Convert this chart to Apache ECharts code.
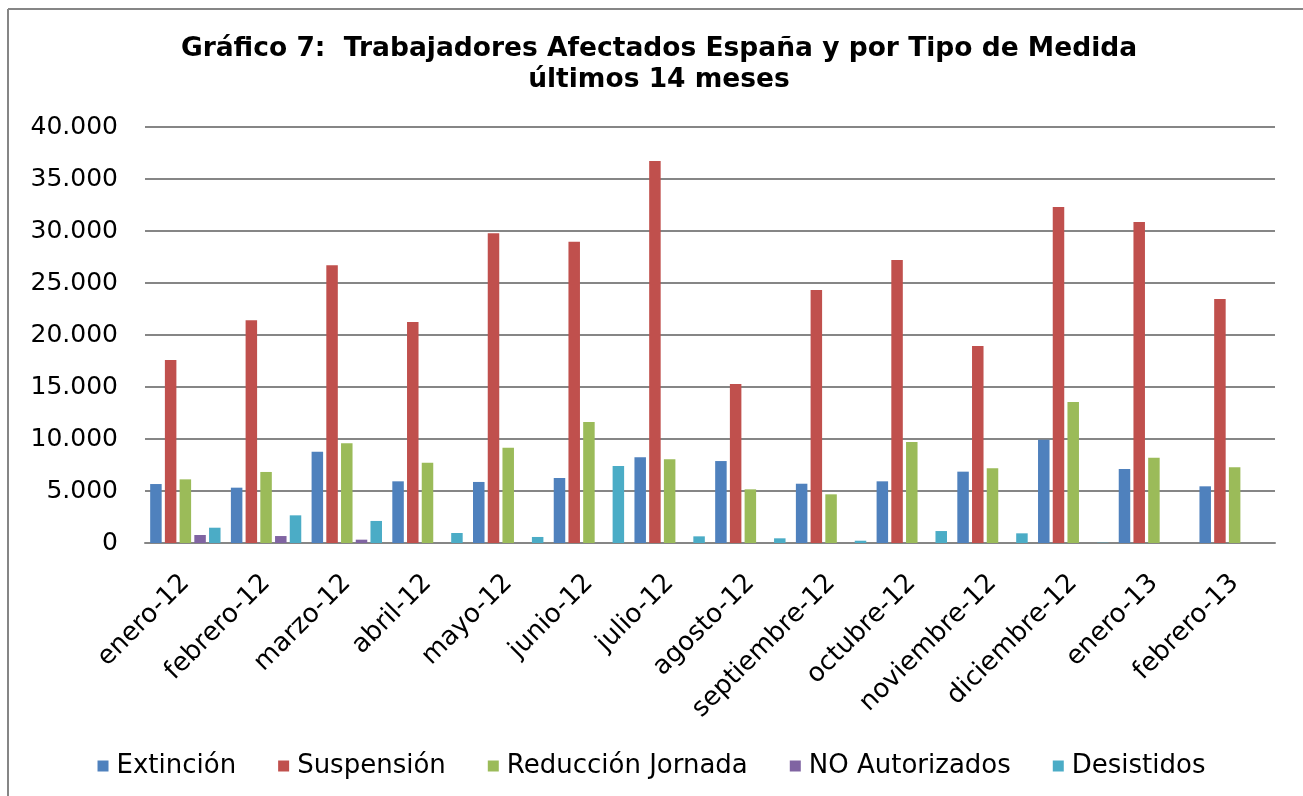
<!DOCTYPE html>
<html>
<head>
<meta charset="utf-8">
<script src="https://cdn.jsdelivr.net/npm/echarts@6/dist/echarts.min.js"></script>
<style>
    html, body { margin: 0; padding: 0; background: #fff; }
    #chart { width: 1303px; height: 796px; }
</style>
</head>
<body>
<div id="chart"></div>
<script>
// categorias (meses)
let meses = ['enero-12','febrero-12','marzo-12','abril-12','mayo-12','junio-12','julio-12',
    'agosto-12','septiembre-12','octubre-12','noviembre-12','diciembre-12','enero-13','febrero-13'];
let extincion   = [5670, 5320, 8780, 5930, 5870, 6250, 8240, 7880, 5700, 5930, 6860, 9930, 7120, 5450];
let suspension  = [17600, 21410, 26700, 21250, 29780, 28970, 36730, 15290, 24330, 27210, 18940, 32310, 30870, 23460];
let reduccion   = [6120, 6830, 9580, 7720, 9170, 11630, 8050, 5160, 4680, 9710, 7180, 13560, 8200, 7280];
let noAutorizados = [770, 670, 320, 0, 0, 0, 0, 0, 0, 0, 0, 0, 0, 0];
let desistidos  = [1470, 2660, 2120, 960, 580, 7400, 640, 450, 220, 1150, 930, 30, 0, 0];
let legend = ['Extinción','Suspensión','Reducción Jornada','NO Autorizados','Desistidos'];
let color = ['#4F81BD','#C0504D','#9BBB59','#8064A2','#4BACC6'];

let font = 'Verdana, "DejaVu Sans", sans-serif';

function serie(name, data) {
    return {
        name: name,
        type: 'bar',
        barWidth: 11.5,
        barGap: '28%',
        data: data
    };
}

let myChart = echarts.init(document.getElementById('chart'));
let option = {
    animation: false,
    color: color,
    title: {
        text: 'Gráfico 7:  Trabajadores Afectados España y por Tipo de Medida\núltimos 14 meses',
        left: 654,
        textAlign: 'center',
        top: 29,
        textStyle: {
            fontFamily: font,
            fontWeight: 'bold',
            fontSize: 26.5,
            lineHeight: 31,
            color: '#000'
        }
    },
    legend: {
        data: legend,
        bottom: 12,
        left: 'center',
        selectedMode: false,
        itemWidth: 11,
        itemHeight: 11,
        itemGap: 42,
        icon: 'rect',
        textStyle: {
            fontFamily: font,
            fontSize: 26,
            color: '#000',
            padding: [0, 0, 0, 3]
        }
    },
    grid: {
        left: 145,
        right: 28,
        top: 127,
        bottom: 253,
        containLabel: false
    },
    xAxis: {
        type: 'category',
        data: meses,
        axisLine: { lineStyle: { color: '#868686', width: 2 } },
        axisTick: { show: false },
        axisLabel: {
            interval: 0,   // todas las etiquetas
            rotate: 45,
            margin: 36,
            fontFamily: font,
            fontSize: 26,
            color: '#000'
        }
    },
    yAxis: {
        type: 'value',
        min: 0,
        max: 40000,
        interval: 5000,
        axisLine: { show: false },
        axisTick: { show: false },
        splitLine: { lineStyle: { color: '#868686', width: 2 } },
        axisLabel: {
            margin: 27,
            fontFamily: font,
            fontSize: 25,
            color: '#000',
            formatter: function (v) {
                return String(v).replace(/\B(?=(\d{3})+(?!\d))/g, '.');
            }
        }
    },
    graphic: [
        { type: 'line', shape: { x1: 8, y1: 9, x2: 1303, y2: 9 }, style: { stroke: '#868686', lineWidth: 2 } },
        { type: 'line', shape: { x1: 8, y1: 9, x2: 8, y2: 796 }, style: { stroke: '#868686', lineWidth: 2 } }
    ],
    series: [
        serie(legend[0], extincion),
        serie(legend[1], suspension),
        serie(legend[2], reduccion),
        serie(legend[3], noAutorizados),
        serie(legend[4], desistidos)
    ]
};
myChart.setOption(option, true);
</script>
</body>
</html>
